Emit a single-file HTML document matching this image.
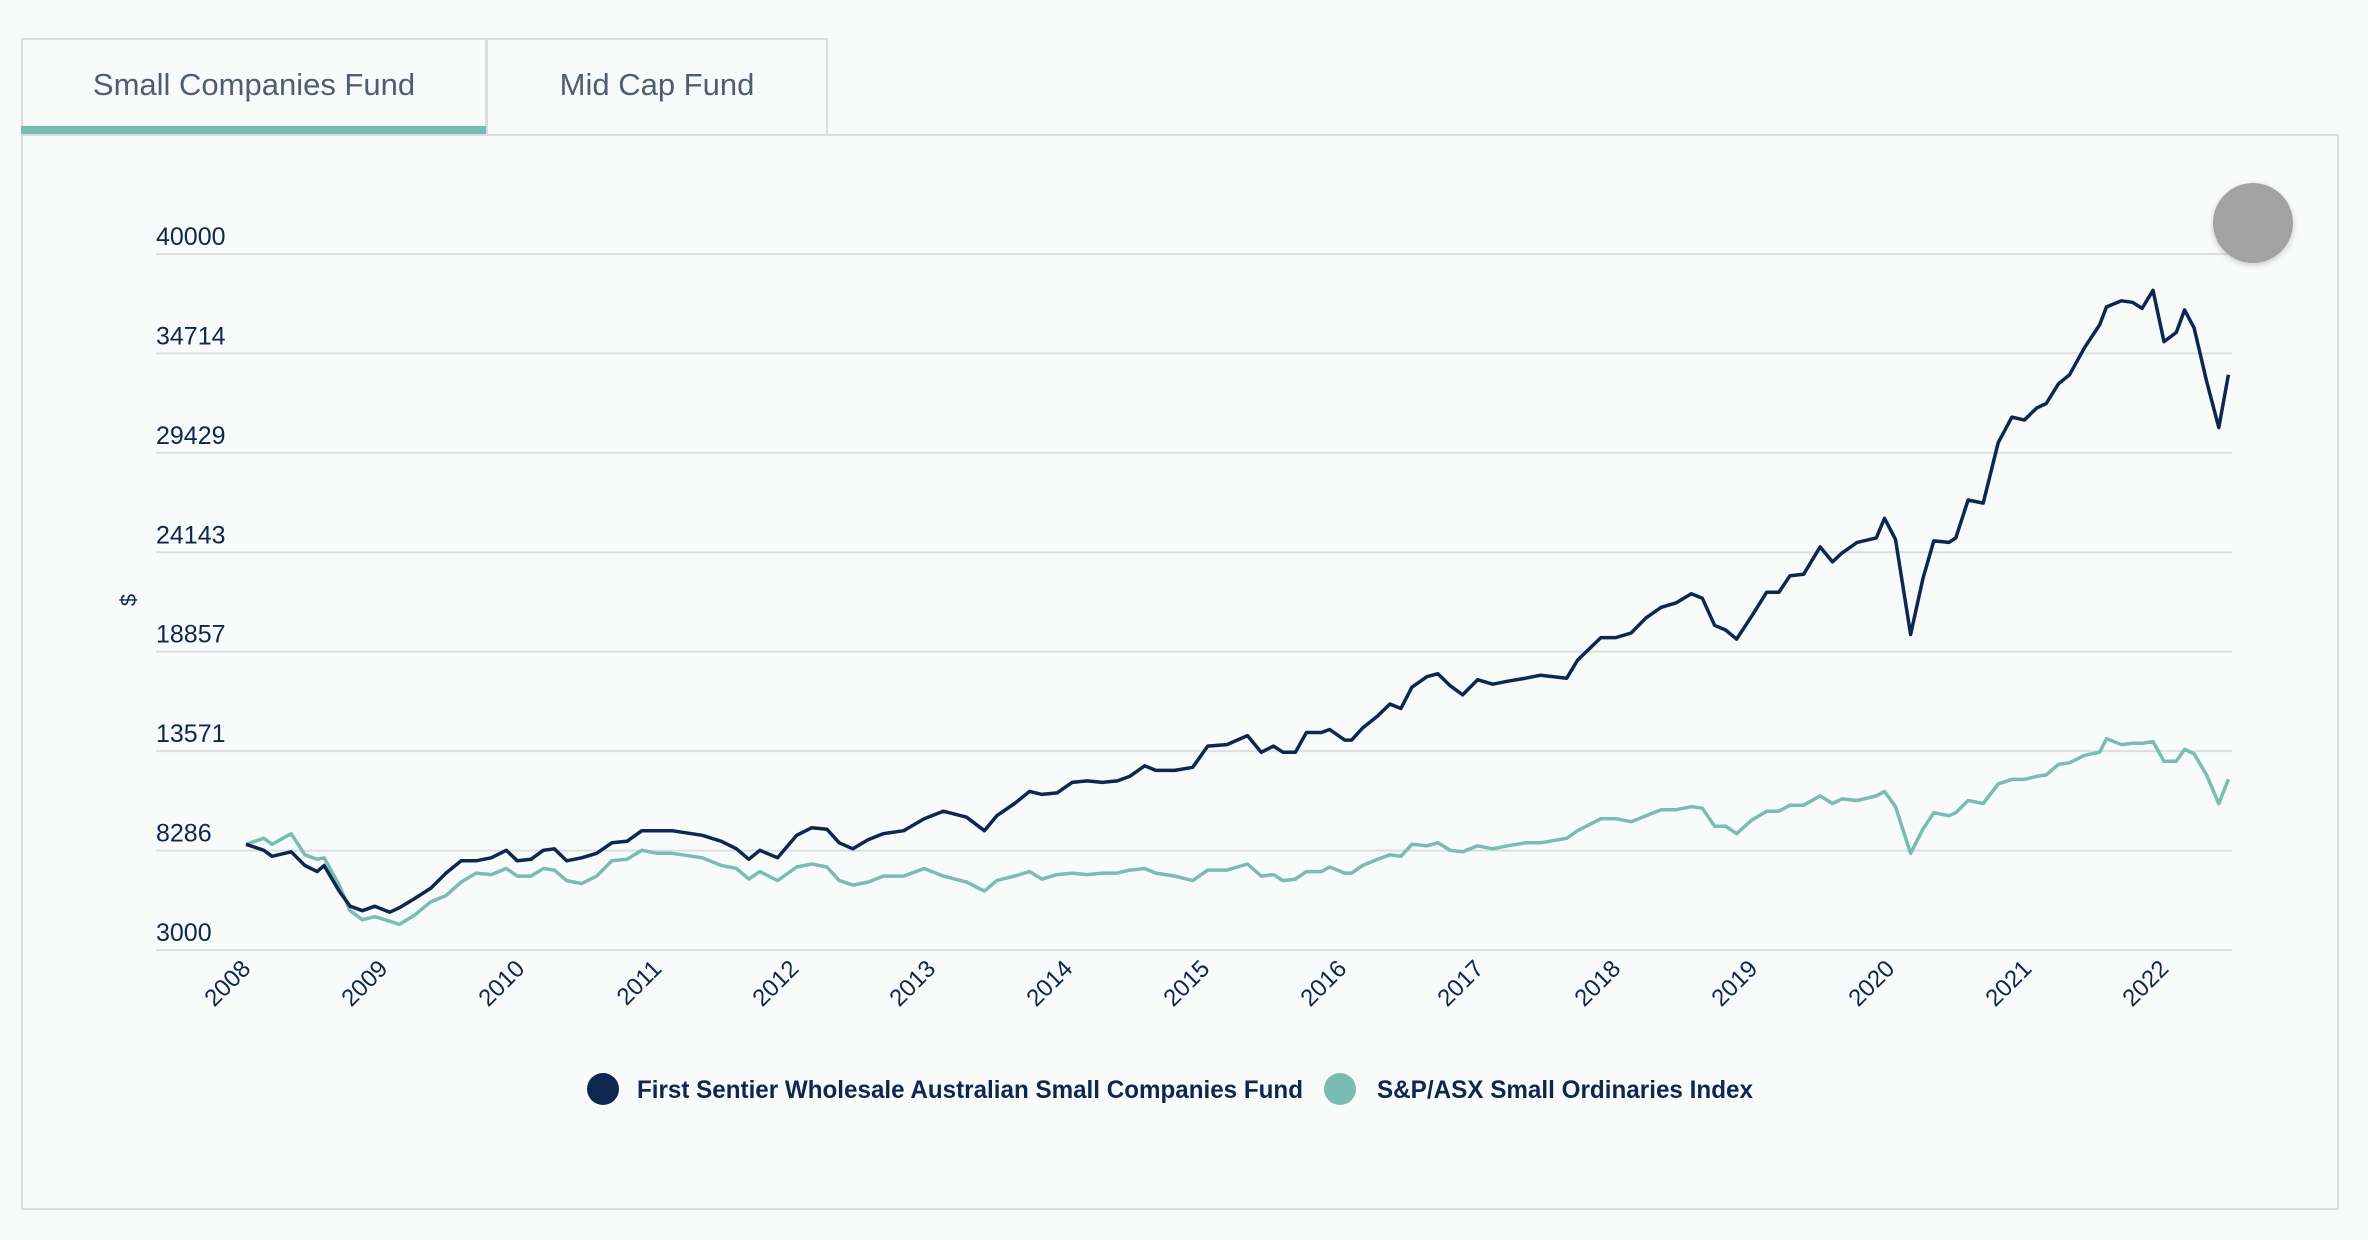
<!DOCTYPE html>
<html><head><meta charset="utf-8">
<style>
html,body{margin:0;padding:0;background:#f9fafa;width:2368px;height:1240px;overflow:hidden;font-family:"Liberation Sans",sans-serif;}
.tab{position:absolute;top:38px;height:96px;box-sizing:border-box;border:2px solid #dcdcdc;border-bottom:none;background:#f9fafa;color:#4f5d73;font-size:31px;display:flex;align-items:center;justify-content:center;padding-bottom:4px;}
#card{position:absolute;left:21px;top:134px;width:2318px;height:1076px;box-sizing:border-box;border:2px solid #dcdcdc;background:#f9fafa;}
svg{position:absolute;left:0;top:0;}
</style></head><body>
<div class="tab" style="left:21px;width:466px;">Small Companies Fund</div>
<div style="position:absolute;left:21px;top:126px;width:466px;height:8px;background:#79bdb2;"></div>
<div class="tab" style="left:486px;width:342px;">Mid Cap Fund</div>
<div id="card"></div>
<svg id="chart" width="2368" height="1240"></svg>
<script>
const dates=[2008.00,2008.13,2008.19,2008.33,2008.43,2008.52,2008.57,2008.68,2008.76,2008.85,2008.94,2009.05,2009.12,2009.23,2009.35,2009.46,2009.57,2009.68,2009.79,2009.90,2009.98,2010.08,2010.17,2010.25,2010.34,2010.45,2010.56,2010.67,2010.78,2010.89,2011.00,2011.11,2011.33,2011.47,2011.58,2011.67,2011.75,2011.88,2012.02,2012.13,2012.24,2012.33,2012.43,2012.54,2012.65,2012.80,2012.95,2013.09,2013.26,2013.39,2013.48,2013.61,2013.72,2013.81,2013.92,2014.03,2014.14,2014.25,2014.36,2014.45,2014.56,2014.64,2014.78,2014.91,2015.02,2015.16,2015.31,2015.41,2015.50,2015.57,2015.66,2015.74,2015.85,2015.91,2016.02,2016.07,2016.15,2016.26,2016.35,2016.43,2016.51,2016.62,2016.70,2016.79,2016.88,2016.99,2017.10,2017.21,2017.34,2017.45,2017.64,2017.72,2017.89,2018.00,2018.11,2018.22,2018.33,2018.44,2018.55,2018.63,2018.72,2018.80,2018.88,2018.99,2019.10,2019.19,2019.27,2019.37,2019.49,2019.58,2019.65,2019.76,2019.90,2019.96,2020.04,2020.15,2020.24,2020.32,2020.43,2020.48,2020.57,2020.68,2020.79,2020.89,2020.98,2021.07,2021.14,2021.23,2021.31,2021.42,2021.53,2021.58,2021.69,2021.77,2021.84,2021.92,2022.00,2022.09,2022.15,2022.22,2022.31,2022.40,2022.47];
const fundValues=[8620,8300,7980,8220,7490,7170,7490,6130,5330,5090,5330,5010,5250,5730,6290,7090,7740,7740,7900,8300,7740,7820,8300,8380,7740,7900,8140,8700,8780,9340,9340,9340,9100,8780,8380,7820,8300,7900,9100,9500,9420,8700,8380,8860,9180,9340,9980,10380,10060,9340,10140,10790,11430,11270,11350,11910,11990,11910,11990,12230,12790,12550,12550,12710,13840,13920,14400,13510,13840,13510,13510,14560,14560,14720,14160,14160,14800,15440,16080,15840,16970,17530,17690,17050,16560,17370,17130,17290,17450,17610,17450,18410,19610,19610,19850,20660,21220,21460,21940,21700,20260,20010,19530,20740,22020,22020,22900,22980,24430,23630,24110,24670,24910,25950,24830,19770,22740,24750,24670,24910,26920,26760,29970,31330,31170,31810,32050,33100,33580,35020,36230,37190,37510,37430,37110,38070,35340,35830,37030,36070,33260,30770,33580];
const indexValues=[8620,8940,8620,9180,8060,7820,7900,6450,5090,4610,4770,4530,4360,4850,5570,5890,6610,7090,7010,7330,6930,6930,7330,7250,6690,6530,6930,7740,7820,8300,8140,8140,7900,7490,7330,6770,7170,6690,7410,7570,7410,6690,6450,6610,6930,6930,7330,6930,6610,6130,6690,6930,7170,6770,7010,7090,7010,7090,7090,7250,7330,7090,6930,6690,7250,7250,7570,6930,7010,6690,6770,7170,7170,7410,7090,7090,7490,7820,8060,7980,8620,8540,8700,8300,8220,8540,8380,8540,8700,8700,8940,9340,9980,9980,9820,10140,10460,10460,10620,10540,9580,9580,9180,9900,10380,10380,10700,10700,11190,10790,11030,10950,11190,11430,10620,8140,9420,10300,10140,10300,10950,10790,11830,12070,12070,12230,12310,12870,12950,13350,13510,14240,13920,13990,13990,14080,13030,13030,13670,13430,12310,10790,12070];
const yTicks=[3000,8286,13571,18857,24143,29429,34714,40000];
const xTickYears=[2008,2009,2010,2011,2012,2013,2014,2015,2016,2017,2018,2019,2020,2021,2022];

const NS="http://www.w3.org/2000/svg";
const svg=document.getElementById('chart');
const X0=246,YEARW=137,Y0=950,YH=696,VMIN=3000,VMAX=40000;
function xs(t){return X0+(t-2008)*YEARW;}
function ys(v){return Y0-(v-VMIN)/(VMAX-VMIN)*YH;}
function mk(tag,attrs,txt){const e=document.createElementNS(NS,tag);for(const k in attrs)e.setAttribute(k,attrs[k]);if(txt!==undefined)e.textContent=txt;svg.appendChild(e);return e;}

yTicks.forEach(v=>{
  const l=mk('line',{x1:156,x2:2232,y1:ys(v),y2:ys(v),stroke:'#dcdedf','stroke-width':2});
  
  
  const t=mk('text',{x:156,y:ys(v)-9,'font-size':25,fill:'#0f2650','font-family':'Liberation Sans, sans-serif'},String(v));
  
  
});
const yt=mk('text',{x:0,y:0,'font-size':22,fill:'#0f2650',transform:'translate(136,600) rotate(-90)','text-anchor':'middle'},'$');



xTickYears.forEach(yr=>{
  const x=xs(yr)+6;
  const t=mk('text',{x:x,y:970,'font-size':24,fill:'#0f2650','text-anchor':'end',transform:`rotate(-45 ${x} 970)`},String(yr));
  
  
});

function line(vals,color,w,name){
  const d=vals.map((v,i)=>(i?'L':'M')+xs(dates[i]).toFixed(1)+','+ys(v).toFixed(1)).join(' ');
  const p=mk('path',{d:d,fill:'none',stroke:color,'stroke-width':w,'stroke-linejoin':'round'});
  
  
}
line(indexValues,'#79bdb2',3.5,'index-line');
line(fundValues,'#0f2650',3.5,'fund-line');

const c1=mk('circle',{cx:603,cy:1089,r:16,fill:'#0f2650'});


const t1=mk('text',{x:637,y:1098,'font-size':25,fill:'#0f2650','font-weight':'bold',textLength:666,lengthAdjust:'spacingAndGlyphs'},'First Sentier Wholesale Australian Small Companies Fund');


const c2=mk('circle',{cx:1340,cy:1089,r:16,fill:'#79bdb2'});


const t2=mk('text',{x:1377,y:1098,'font-size':25,fill:'#0f2650','font-weight':'bold',textLength:376,lengthAdjust:'spacingAndGlyphs'},'S&P/ASX Small Ordinaries Index');



const defs=mk('defs',{});
defs.innerHTML='<filter id="sh" x="-50%" y="-50%" width="200%" height="200%"><feDropShadow dx="0" dy="2" stdDeviation="3" flood-color="#000" flood-opacity="0.2"/></filter>';
const g=mk('circle',{cx:2253,cy:223,r:40,fill:'#a2a2a2',filter:'url(#sh)'});


</script>
</body></html>
